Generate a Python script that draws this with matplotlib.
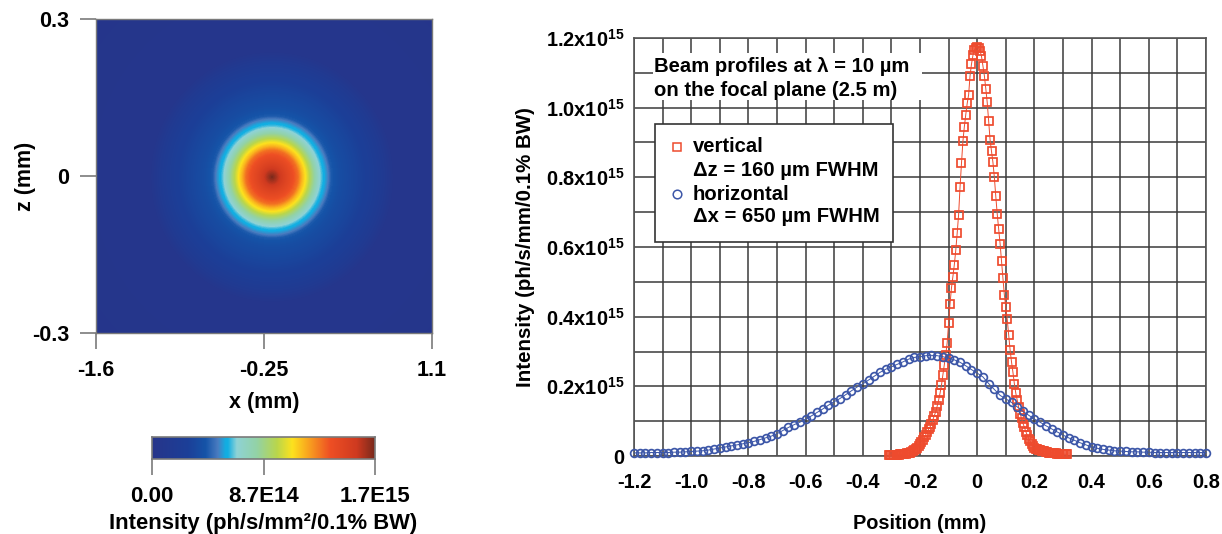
import numpy as np
import matplotlib
matplotlib.use('Agg')
import matplotlib.pyplot as plt
from matplotlib.colors import LinearSegmentedColormap
from matplotlib.patches import Rectangle

FONT = ['Liberation Sans', 'DejaVu Sans']
plt.rcParams['font.family'] = FONT
plt.rcParams['font.weight'] = 'bold'
plt.rcParams['mathtext.fontset'] = 'custom'
plt.rcParams['mathtext.rm'] = 'Liberation Sans:bold'
plt.rcParams['mathtext.bf'] = 'Liberation Sans:bold'
plt.rcParams['mathtext.default'] = 'rm'

# ---- data: line profiles (position in mm, intensity in 1e15 ph/s/mm/0.1% BW)
vertical_x = [-0.310, -0.305, -0.300, -0.295, -0.290, -0.285, -0.280, -0.275, -0.270, -0.265, -0.260, -0.255,
              -0.250, -0.245, -0.240, -0.235, -0.230, -0.225, -0.220, -0.215, -0.210, -0.205, -0.200, -0.195,
              -0.190, -0.185, -0.180, -0.175, -0.170, -0.165, -0.160, -0.155, -0.150, -0.145, -0.140, -0.135,
              -0.130, -0.125, -0.120, -0.115, -0.110, -0.105, -0.100, -0.095, -0.090, -0.085, -0.080, -0.075,
              -0.070, -0.065, -0.060, -0.055, -0.050, -0.045, -0.040, -0.035, -0.030, -0.025, -0.020, -0.015,
              -0.010, -0.005, 0.000, 0.005, 0.010, 0.015, 0.020, 0.025, 0.030, 0.035, 0.040, 0.045,
              0.050, 0.055, 0.060, 0.065, 0.070, 0.075, 0.080, 0.085, 0.090, 0.095, 0.100, 0.105,
              0.110, 0.115, 0.120, 0.125, 0.130, 0.135, 0.140, 0.145, 0.150, 0.155, 0.160, 0.165,
              0.170, 0.175, 0.180, 0.185, 0.190, 0.195, 0.200, 0.205, 0.210, 0.215, 0.220, 0.225,
              0.230, 0.235, 0.240, 0.245, 0.250, 0.255, 0.260, 0.265, 0.270, 0.275, 0.280, 0.285,
              0.290, 0.295, 0.300, 0.305, 0.310, 0.315]
vertical_y = [.002, .002, .003, .003, .003, .004, .004, .004, .005, .005, .006, .007,
              .007, .008, .009, .010, .012, .014, .016, .019, .023, .028, .034, .040,
              .047, .054, .061, .069, .077, .083, .092, .104, .116, .127, .143, .160,
              .180, .203, .233, .262, .291, .325, .381, .437, .482, .515, .549, .590,
              .640, .693, .772, .840, .903, .945, .980, 1.012, 1.037, 1.092, 1.125, 1.150,
              1.165, 1.172, 1.175, 1.172, 1.163, 1.148, 1.120, 1.092, 1.055, 1.015, .962, .908,
              .875, .843, .800, .745, .695, .652, .610, .560, .510, .462, .427, .392,
              .348, .305, .270, .240, .207, .180, .160, .140, .122, .108, .094, .082,
              .070, .060, .050, .042, .034, .028, .024, .021, .019, .017, .016, .015,
              .014, .013, .012, .011, .010, .010, .009, .009, .008, .008, .007, .007,
              .006, .006, .006, .005, .005, .005]

horizontal_x = [-1.20, -1.18, -1.16, -1.14, -1.12, -1.10, -1.08, -1.06, -1.04, -1.02, -1.00, -0.98, -0.96,
                -0.94, -0.92, -0.90, -0.88, -0.86, -0.84, -0.82, -0.80, -0.78, -0.76, -0.74, -0.72, -0.70,
                -0.68, -0.66, -0.64, -0.62, -0.60, -0.58, -0.56, -0.54, -0.52, -0.50, -0.48, -0.46, -0.44,
                -0.42, -0.40, -0.38, -0.36, -0.34, -0.32, -0.30, -0.28, -0.26, -0.24, -0.22, -0.20, -0.18,
                -0.16, -0.14, -0.12, -0.10, -0.08, -0.06, -0.04, -0.02, 0.00, 0.02, 0.04, 0.06, 0.08, 0.10,
                0.12, 0.14, 0.16, 0.18, 0.20, 0.22, 0.24, 0.26, 0.28, 0.30, 0.32, 0.34, 0.36, 0.38, 0.40,
                0.42, 0.44, 0.46, 0.48, 0.50, 0.52, 0.54, 0.56, 0.58, 0.60, 0.62, 0.64, 0.66, 0.68, 0.70,
                0.72, 0.74, 0.76, 0.78, 0.80]
horizontal_y = [.009, .009, .009, .010, .010, .010, .010, .011, .011, .012, .013, .014, .015,
                .017, .020, .023, .026, .029, .032, .035, .038, .042, .047, .052, .057, .064,
                .073, .082, .090, .097, .106, .115, .125, .135, .146, .156, .165, .176, .187,
                .198, .207, .218, .229, .240, .249, .256, .263, .270, .278, .283, .285, .288,
                .289, .288, .285, .281, .276, .269, .259, .248, .238, .227, .208, .191, .174, .164,
                .154, .141, .128, .117, .106, .097, .087, .078, .069, .060, .052, .045, .038, .032, .026,
                .022, .019, .017, .015, .014, .013, .012, .012, .011, .011, .010, .010, .010, .010, .010,
                .010, .010, .010, .010, .010]

# ---- data: beam spot, radial intensity profile (fraction of colour scale)
spot_radius_px = [0, 6, 12, 20, 27, 31, 35, 42, 48, 51, 54, 58, 61, 70, 85, 100, 115, 125, 400]
spot_level = [1.00, .94, .88, .82, .76, .68, .62, .50, .40, .36, .33, .295, .25, .215, .185, .15, .09, .03, .0]

# ---- data: axis labels
profile_xticks = [-1.2, -1.0, -0.8, -0.6, -0.4, -0.2, 0, 0.2, 0.4, 0.6, 0.8]
profile_xlabels = ['-1.2', '-1.0', '-0.8', '-0.6', '-0.4', '-0.2', '0', '0.2', '0.4', '0.6', '0.8']
profile_yticks = [0, 0.2, 0.4, 0.6, 0.8, 1.0, 1.2]
profile_ylabels = ['0', r'0.2x10$^{15}$', r'0.4x10$^{15}$', r'0.6x10$^{15}$',
                   r'0.8x10$^{15}$', r'1.0x10$^{15}$', r'1.2x10$^{15}$']
cbar_ticks = [0.0, 0.5, 1.0]
cbar_labels = ['0.00', '8.7E14', '1.7E15']

cmap_stops = [(0.00, '#27358a'), (0.16, '#1c3f98'), (0.24, '#1554a8'), (0.295, '#4a7cc0'), (0.33, '#12aee2'),
              (0.34, '#12aee2'), (0.38, '#8fd3d6'), (0.47, '#93d2a6'), (0.56, '#b9d64c'), (0.63, '#fde21e'),
              (0.70, '#f9a51f'), (0.80, '#ee4f24'), (0.92, '#cf3a20'), (1.00, '#7a2a1c')]
cmap = LinearSegmentedColormap.from_list('beam', cmap_stops)

W, H = 1222, 534
fig = plt.figure(figsize=(W / 100, H / 100), dpi=100, facecolor='white')


def box(l, t, r, b):
    return [l / W, 1 - b / H, (r - l) / W, (b - t) / H]


GRAY = '#7a7a7a'
FS_L = 15.5
FS_R = 14.4

# ---- left: beam spot
ax = fig.add_axes(box(96, 19, 432, 333))
ny, nx = 314, 336
px, py = np.meshgrid(np.arange(nx) + 0.5, np.arange(ny) + 0.5)
rad = np.hypot((px - 176) * 1.03, py - 158)
img = np.interp(rad, spot_radius_px, spot_level)
ax.imshow(img, cmap=cmap, vmin=0, vmax=1, extent=[-1.6, 1.1, -0.3, 0.3], origin='upper',
          aspect='auto', interpolation='bilinear')
ax.set_xticks([-1.6, -0.25, 1.1], ['-1.6', '-0.25', '1.1'])
ax.set_yticks([-0.3, 0, 0.3], ['-0.3', '0', '0.3'])
ax.tick_params(length=11.5, width=1.2, color=GRAY, labelsize=FS_L, pad=8)
ax.set_xlabel('x (mm)', fontsize=FS_L, fontweight='bold', labelpad=8)
ax.set_ylabel('z (mm)', fontsize=FS_L, fontweight='bold', labelpad=-3)
for s in ax.spines.values():
    s.set_color(GRAY)
    s.set_linewidth(1.0)

# ---- colorbar
cax = fig.add_axes(box(152, 437, 375, 459))
grad = np.linspace(0, 1, 256).reshape(1, -1)
cax.imshow(grad, cmap=cmap, aspect='auto', extent=[0, 1, 0, 1])
cax.set_yticks([])
cax.set_xticks(cbar_ticks, cbar_labels)
cax.tick_params(length=11.5, width=1.2, color=GRAY, labelsize=FS_L + 0.5, pad=8)
cax.set_xlabel('Intensity (ph/s/mm²/0.1% BW)', fontsize=FS_L + 0.3, fontweight='bold', labelpad=4)
for s in cax.spines.values():
    s.set_color(GRAY)
    s.set_linewidth(1.2)

# ---- right: profiles
ax2 = fig.add_axes(box(634, 38, 1206, 456))
ax2.set_xlim(-1.2, 0.8)
ax2.set_ylim(0, 1.2)
ax2.set_xticks(np.array(profile_xticks), profile_xlabels)
ax2.set_yticks(profile_yticks, profile_ylabels)
ax2.set_xticks(np.arange(-11, 8) / 10, minor=True)
ax2.set_yticks(np.arange(1, 12, 2) / 10, minor=True)
ax2.grid(True, which='both', color='#3a3a3a', lw=1.1)
ax2.set_axisbelow(True)
ax2.tick_params(which='both', length=0, labelsize=FS_R, pad=7)
ax2.tick_params(axis='x', which='both', pad=12)
ax2.set_xlabel('Position (mm)', fontsize=FS_R, fontweight='bold', labelpad=16)
ax2.set_ylabel('Intensity (ph/s/mm/0.1% BW)', fontsize=FS_R + 0.4, fontweight='bold', labelpad=8)
for s in ax2.spines.values():
    s.set_color('#555555')
    s.set_linewidth(1.2)

RED = '#ee4b2e'
BLUE = '#3d57a8'
ax2.plot(vertical_x, vertical_y, '-', color=RED, lw=0.7, marker='s', ms=6.0, mfc='none', mew=1.25, zorder=3,
         clip_on=False)
ax2.plot(horizontal_x, horizontal_y, '-', color=BLUE, lw=0.7, marker='o', ms=5.6, mfc='none', mew=1.25, zorder=4,
         clip_on=False)


def ax2_frac(x, y):
    return (x - 634) / 572, (456 - y) / 418


def ax2_rect(l, t, r, b, **kw):
    x0, y0 = ax2_frac(l, b)
    x1, y1 = ax2_frac(r, t)
    ax2.add_patch(Rectangle((x0, y0), x1 - x0, y1 - y0, transform=ax2.transAxes, zorder=5, **kw))


def ax2_text(x, y, s):
    fx, fy = ax2_frac(x, y)
    ax2.text(fx, fy, s, transform=ax2.transAxes, fontsize=FS_R + 0.2, fontweight='bold', va='center', ha='left', zorder=7)


ax2_rect(653, 53, 922, 100, facecolor='white', edgecolor='none')
ax2_text(654, 66, 'Beam profiles at λ = 10 µm')
ax2_text(654, 90, 'on the focal plane (2.5 m)')

ax2_rect(655, 124, 893, 242, facecolor='white', edgecolor='#333333', lw=1.2)
ax2_text(693, 146, 'vertical')
ax2_text(693, 170, 'Δz = 160 µm FWHM')
ax2_text(693, 194, 'horizontal')
ax2_text(693, 217, 'Δx = 650 µm FWHM')
mx, my = ax2_frac(677, 147)
ax2.plot([mx], [my], 's', color=RED, ms=6.2, mfc='none', mew=1.1, transform=ax2.transAxes, zorder=7)
mx, my = ax2_frac(677, 194)
ax2.plot([mx], [my], 'o', color=BLUE, ms=6.2, mfc='none', mew=1.1, transform=ax2.transAxes, zorder=7)

fig.savefig('out.png', dpi=100, facecolor='white')
